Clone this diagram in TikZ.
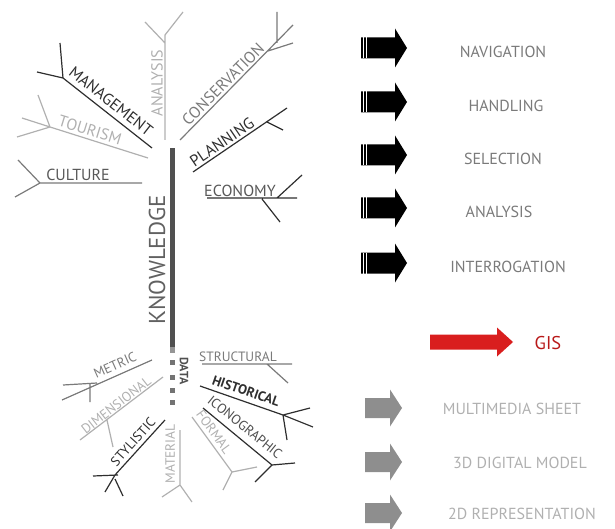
\documentclass[tikz,border=0pt]{standalone}
\usepackage{fontspec}
\setmainfont{PT Sans}

\definecolor{darkbranch}{HTML}{2E2E2E}
\definecolor{midbranch}{HTML}{7A7A7A}
\definecolor{lightbranch}{HTML}{B0B0B0}
\definecolor{trunkgray}{HTML}{505050}
\definecolor{gisred}{HTML}{D91E1E}
\definecolor{arrowgray}{HTML}{8E8E8E}

\begin{document}
\begin{tikzpicture}[x=1pt,y=-1pt,
	dk/.style={draw=darkbranch,line width=1.2pt},
	md/.style={draw=midbranch,line width=1.2pt},
	lt/.style={draw=lightbranch,line width=1.2pt},
	lab/.style={inner sep=0pt,font=\fontsize{16}{16}\selectfont},
	sublab/.style={inner sep=0pt,font=\fontsize{13.5}{13.5}\selectfont},
	toollab/.style={inner sep=0pt,text=midbranch,font=\fontsize{16}{16}\selectfont},
	outlab/.style={inner sep=0pt,text=lightbranch,font=\fontsize{16}{16}\selectfont}]
	\useasboundingbox (0,0) rectangle (615,529);

	% trunk
	\fill[trunkgray] (170,148) rectangle (175,347);
	\fill[trunkgray!60] (170,347) rectangle (175,353);
	\foreach \y in {362,377,390,402} \fill[trunkgray!80] (170,\y-2.5) rectangle (175,\y+2.5);
	\node[inner sep=0pt,rotate=90,text=trunkgray!90,font=\fontsize{23}{23}\selectfont] (knowledge) at (157,260) {KNOWLEDGE};
	\node[inner sep=0pt,rotate=-90,text=trunkgray,font=\bfseries\fontsize{12}{12}\selectfont] (data) at (184,371) {DATA};

	% upper branches
	\draw[lt] (165,140) -- (165,35) -- (183,12) (145,22) -- (165,43);
	\node[lab,rotate=90,text=lightbranch] (analysis) at (157,83) {ANALYSIS};
	\draw[dk] (152,148) -- (63,78) -- (37,72) (63,78) -- (60,43);
	\node[lab,rotate=-38,text=darkbranch] (management) at (111,101) {MANAGEMENT};
	\draw[lt] (148,158) -- (50,127) -- (22,118) (50,127) -- (17,137) (50,127) -- (38,95);
	\node[lab,rotate=-17,text=lightbranch] (tourism) at (90,130) {TOURISM};
	\draw[md] (142,183) -- (40,183) -- (18,160) (40,183) -- (15,197);
	\node[lab,text=darkbranch!80] (culture) at (78,175) {CULTURE};
	\draw[md] (180,140) -- (293,25) (277,12) -- (277,43) (268,51) -- (293,43);
	\node[lab,rotate=45,text=midbranch] (conservation) at (223,84) {CONSERVATION};
	\draw[dk] (193,172) -- (287,108) (267,122) -- (283,130);
	\node[lab,rotate=34,text=darkbranch] (planning) at (222,142) {PLANNING};
	\draw[dk] (207,198) -- (297,198) (277,198) -- (302,175) (262,199) -- (280,222);
	\node[lab,text=darkbranch!80] (economy) at (240,191) {ECONOMY};

	% lower branches
	\draw[md] (152,360) -- (62,400) (63,385) -- (97,383) (90,383) -- (90,402);
	\node[sublab,rotate=24,text=midbranch] (metric) at (115,365) {METRIC};
	\draw[lt] (163,377) -- (80,440) (107,420) -- (113,447);
	\node[sublab,rotate=38,text=lightbranch] (dimensional) at (116,405) {DIMENSIONAL};
	\draw[dk] (165,420) -- (115,475) -- (105,492) (93,476) -- (118,475) (115,479) -- (123,496);
	\node[sublab,rotate=48,text=darkbranch] (stylistic) at (133,442) {STYLISTIC};
	\draw[lt] (180,430) -- (180,485) -- (162,497) (180,485) -- (192,502);
	\node[sublab,rotate=90,text=lightbranch] (material) at (170,454) {MATERIAL};
	\draw[lt] (192,417) -- (232,472) -- (257,467) (232,472) -- (223,490);
	\node[sublab,rotate=-54,text=lightbranch] (formal) at (214,432) {FORMAL};
	\draw[dk] (203,408) -- (272,465) -- (295,463) (272,465) -- (255,482);
	\node[sublab,rotate=-39,text=darkbranch!85] (iconographic) at (245,427) {ICONOGRAPHIC};
	\draw[dk] (200,386) -- (283,415) -- (310,408) (283,415) -- (313,427) (283,415) -- (287,440);
	\node[sublab,rotate=-19,text=darkbranch,font=\bfseries\fontsize{13.5}{13.5}\selectfont] (historical) at (246,391) {HISTORICAL};
	\draw[md] (202,364) -- (292,364) (267,364) -- (288,383);
	\node[sublab,text=midbranch] (structural) at (238,357) {STRUCTURAL};

	% tools
	\foreach \y/\x/\t [count=\i] in {48/503/NAVIGATION,102/506/HANDLING,155/503/SELECTION,208/499/ANALYSIS,263/508/INTERROGATION} {
		\fill (361,\y-10.5) -- (395,\y-10.5) -- (395,\y-19.5) -- (407,\y) -- (395,\y+19.5) -- (395,\y+10.5) -- (361,\y+10.5) -- cycle;
		\draw[white,line width=0.8pt] (363.3,\y-10.5) -- (363.3,\y+10.5) (366.7,\y-10.5) -- (366.7,\y+10.5);
		\node[toollab] (tool\i) at (\x,\y+4) {\t};
	}

	% gis
	\fill[gisred] (430,334.5) -- (497,334.5) -- (497,327.5) -- (513,342) -- (497,356.5) -- (497,349.5) -- (430,349.5) -- cycle;
	\node[inner sep=0pt,text=gisred!85!black,font=\fontsize{18.5}{18.5}\selectfont] (gis) at (548,343) {GIS};

	% outputs
	\foreach \y/\x/\t [count=\i] in {408/512/MULTIMEDIA SHEET,462/520/3D DIGITAL MODEL,513/522/2D REPRESENTATION} {
		\fill[arrowgray] (365,\y-10) -- (390,\y-10) -- (390,\y-18.5) -- (402,\y) -- (390,\y+18.5) -- (390,\y+10) -- (365,\y+10) -- cycle;
		\node[outlab] (out\i) at (\x,\y+1) {\t};
	}
\end{tikzpicture}
\end{document}
